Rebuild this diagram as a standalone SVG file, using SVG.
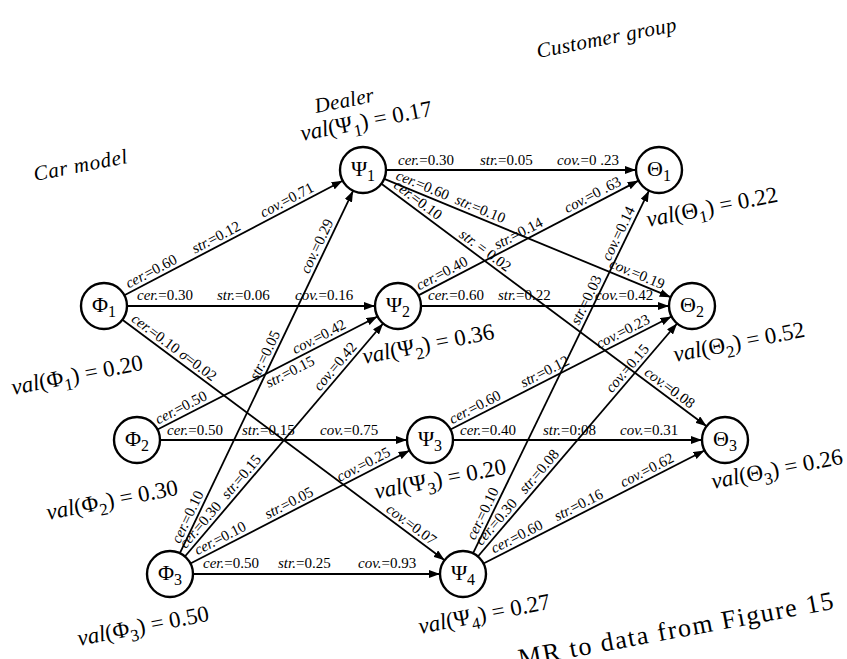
<svg xmlns="http://www.w3.org/2000/svg" width="847" height="659" viewBox="0 0 847 659">
<style>
.ln{stroke:#000;stroke-width:1.8;fill:none;marker-end:url(#ah)}
.nd{fill:#fff;stroke:#000;stroke-width:2.4}
.el{font-size:15px;fill:#000}
.i{font-style:italic}
.nl{font-size:22px;text-anchor:middle}
.val{font-size:23px}
.hd{font-style:italic;font-size:21px}
.cap{font-size:26px}
</style>
<defs>
<marker id="ah" markerWidth="11" markerHeight="8" refX="11" refY="4" orient="auto" markerUnits="userSpaceOnUse"><path d="M0,0 L11,4 L0,8 z" fill="#000"/></marker>
</defs>
<rect width="847" height="659" fill="#fff"/>
<g font-family="Liberation Serif, DejaVu Serif, serif">
<g id="connectors">
<line class="ln" x1="124.4" y1="295.3" x2="342.6" y2="180.7"/>
<line class="ln" x1="127" y1="306" x2="375" y2="306"/>
<line class="ln" x1="122.4" y1="319.8" x2="444.6" y2="560.2"/>
<line class="ln" x1="157.5" y1="429.5" x2="377.5" y2="316.5"/>
<line class="ln" x1="160" y1="440" x2="407" y2="440"/>
<line class="ln" x1="179.9" y1="553.2" x2="353.1" y2="190.8"/>
<line class="ln" x1="184.9" y1="556.5" x2="383.1" y2="323.5"/>
<line class="ln" x1="190.4" y1="563.5" x2="409.6" y2="450.5"/>
<line class="ln" x1="193" y1="574" x2="440" y2="574"/>
<line class="ln" x1="386" y1="170" x2="636" y2="170"/>
<line class="ln" x1="384.3" y1="178.8" x2="670.7" y2="297.2"/>
<line class="ln" x1="381.4" y1="183.8" x2="706.6" y2="426.2"/>
<line class="ln" x1="418.4" y1="295.4" x2="638.6" y2="180.6"/>
<line class="ln" x1="421" y1="306" x2="669" y2="306"/>
<line class="ln" x1="450.5" y1="429.5" x2="671.5" y2="316.5"/>
<line class="ln" x1="453" y1="440" x2="702" y2="440"/>
<line class="ln" x1="473" y1="553.3" x2="649" y2="190.7"/>
<line class="ln" x1="477.9" y1="556.5" x2="677.1" y2="323.5"/>
<line class="ln" x1="483.5" y1="563.5" x2="704.5" y2="450.5"/>

<g class="el">
<g transform="translate(104,306) rotate(-27.70)">
<text x="30" y="-4"><tspan class="i">cer.</tspan>=0.60</text>
<text x="105" y="-4"><tspan class="i">str.</tspan>=0.12</text>
<text x="182" y="-4"><tspan class="i">cov.</tspan>=0.71</text>
</g>
<text x="137" y="300"><tspan class="i">cer.</tspan>=0.30</text>
<text x="217" y="300"><tspan class="i">str.</tspan>=0.06</text>
<text x="295" y="300"><tspan class="i">cov.</tspan>=0.16</text>
<g transform="translate(104,306) rotate(36.74)">
<text x="30" y="-4"><tspan class="i">cer.</tspan>=0.10 <tspan class="i">σ</tspan>=0.02</text>
<text x="348" y="-4"><tspan class="i">cov.</tspan>=0.07</text>
</g>
<g transform="translate(137,440) rotate(-27.18)">
<text x="26" y="-4"><tspan class="i">cer.</tspan>=0.50</text>
<text x="141" y="14"><tspan class="i">str.</tspan>=0.15</text>
<text x="180" y="-4"><tspan class="i">cov.</tspan>=0.42</text>
</g>
<text x="167" y="435"><tspan class="i">cer.</tspan>=0.50</text>
<text x="242" y="435"><tspan class="i">str.</tspan>=0.15</text>
<text x="320" y="435"><tspan class="i">cov.</tspan>=0.75</text>
<g transform="translate(170,574) rotate(-64.46)">
<text x="31" y="-4"><tspan class="i">cer.</tspan>=0.10</text>
<text x="212" y="-4"><tspan class="i">str.</tspan>=0.05</text>
<text x="330" y="-4"><tspan class="i">cov.</tspan>=0.29</text>
</g>
<g transform="translate(170,574) rotate(-49.61)">
<text x="29" y="-4"><tspan class="i">cer.</tspan>=0.30</text>
<text x="94" y="-4"><tspan class="i">str.</tspan>=0.15</text>
<text x="236" y="-4"><tspan class="i">cov.</tspan>=0.42</text>
</g>
<g transform="translate(170,574) rotate(-27.27)">
<text x="33" y="-4"><tspan class="i">cer.</tspan>=0.10</text>
<text x="112" y="-4"><tspan class="i">str.</tspan>=0.05</text>
<text x="193" y="-4"><tspan class="i">cov.</tspan>=0.25</text>
</g>
<text x="203" y="568"><tspan class="i">cer.</tspan>=0.50</text>
<text x="278" y="568"><tspan class="i">str.</tspan>=0.25</text>
<text x="358" y="568"><tspan class="i">cov.</tspan>=0.93</text>
<text x="398" y="165"><tspan class="i">cer.</tspan>=0.30</text>
<text x="480" y="165"><tspan class="i">str.</tspan>=0.05</text>
<text x="557" y="165"><tspan class="i">cov.</tspan>=0 .23</text>
<g transform="translate(363,170) rotate(22.46)">
<text x="33" y="-4"><tspan class="i">cer.</tspan>=0.60</text>
<text x="97" y="-4"><tspan class="i">str.</tspan>=0.10</text>
<text x="264" y="-4"><tspan class="i">cov.</tspan>=0.19</text>
</g>
<g transform="translate(363,170) rotate(36.72)">
<text x="34" y="-4"><tspan class="i">cer.</tspan>=0.10</text>
<text x="116" y="-4"><tspan class="i">str.</tspan> = 0.02</text>
<text x="347" y="-4"><tspan class="i">cov.</tspan>=0.08</text>
</g>
<g transform="translate(398,306) rotate(-27.52)">
<text x="26" y="-4"><tspan class="i">cer.</tspan>=0.40</text>
<text x="114" y="-4"><tspan class="i">str.</tspan>=0.14</text>
<text x="193" y="-4"><tspan class="i">cov.</tspan>=0 .63</text>
</g>
<text x="428" y="300"><tspan class="i">cer.</tspan>=0.60</text>
<text x="498" y="300"><tspan class="i">str.</tspan>=0.22</text>
<text x="595" y="300"><tspan class="i">cov.</tspan>=0.42</text>
<g transform="translate(430,440) rotate(-27.08)">
<text x="27" y="-4"><tspan class="i">cer.</tspan>=0.60</text>
<text x="107" y="-4"><tspan class="i">str.</tspan>=0.12</text>
<text x="192" y="-4"><tspan class="i">cov.</tspan>=0.23</text>
</g>
<text x="460" y="435"><tspan class="i">cer.</tspan>=0.40</text>
<text x="543" y="435"><tspan class="i">str.</tspan>=0:08</text>
<text x="620" y="435"><tspan class="i">cov.</tspan>=0.31</text>
<g transform="translate(463,574) rotate(-64.12)">
<text x="35" y="-4"><tspan class="i">cer.</tspan>=0.10</text>
<text x="274" y="-4"><tspan class="i">str.</tspan>=0.03</text>
<text x="345" y="-4"><tspan class="i">cov.</tspan>=0.14</text>
</g>
<g transform="translate(463,574) rotate(-49.48)">
<text x="33" y="-4"><tspan class="i">cer.</tspan>=0.30</text>
<text x="101" y="-4"><tspan class="i">str.</tspan>=0.08</text>
<text x="234" y="-4"><tspan class="i">cov.</tspan>=0.15</text>
</g>
<g transform="translate(463,574) rotate(-27.08)">
<text x="37" y="-4"><tspan class="i">cer.</tspan>=0.60</text>
<text x="108" y="-4"><tspan class="i">str.</tspan>=0.16</text>
<text x="182" y="-4"><tspan class="i">cov.</tspan>=0.62</text>
</g>
</g>
</g>

<g id="phi1"><circle class="nd" cx="104" cy="306" r="23"/><text class="nl" x="104" y="312">Φ<tspan font-size="16" dy="5">1</tspan></text></g>
<g id="phi2"><circle class="nd" cx="137" cy="440" r="23"/><text class="nl" x="137" y="446">Φ<tspan font-size="16" dy="5">2</tspan></text></g>
<g id="phi3"><circle class="nd" cx="170" cy="574" r="23"/><text class="nl" x="170" y="580">Φ<tspan font-size="16" dy="5">3</tspan></text></g>
<g id="psi1"><circle class="nd" cx="363" cy="170" r="23"/><text class="nl" x="363" y="176">Ψ<tspan font-size="16" dy="5">1</tspan></text></g>
<g id="psi2"><circle class="nd" cx="398" cy="306" r="23"/><text class="nl" x="398" y="312">Ψ<tspan font-size="16" dy="5">2</tspan></text></g>
<g id="psi3"><circle class="nd" cx="430" cy="440" r="23"/><text class="nl" x="430" y="446">Ψ<tspan font-size="16" dy="5">3</tspan></text></g>
<g id="psi4"><circle class="nd" cx="463" cy="574" r="23"/><text class="nl" x="463" y="580">Ψ<tspan font-size="16" dy="5">4</tspan></text></g>
<g id="theta1"><circle class="nd" cx="659" cy="170" r="23"/><text class="nl" x="659" y="176">Θ<tspan font-size="16" dy="5">1</tspan></text></g>
<g id="theta2"><circle class="nd" cx="692" cy="306" r="23"/><text class="nl" x="692" y="312">Θ<tspan font-size="16" dy="5">2</tspan></text></g>
<g id="theta3"><circle class="nd" cx="725" cy="440" r="23"/><text class="nl" x="725" y="446">Θ<tspan font-size="16" dy="5">3</tspan></text></g>

<g id="labels">
<text class="hd" transform="translate(35,181) rotate(-11)" textLength="95">Car model</text>
<text class="hd" transform="translate(316,113) rotate(-11)" textLength="60">Dealer</text>
<text class="hd" transform="translate(538,58) rotate(-11)" textLength="142">Customer group</text>
<text class="val" transform="translate(302,141) rotate(-11)"><tspan class="i">val</tspan>(Ψ<tspan font-size="17" dy="6">1</tspan><tspan dy="-6">) = 0.17</tspan></text>
<text class="val" transform="translate(648,227) rotate(-11)"><tspan class="i">val</tspan>(Θ<tspan font-size="17" dy="6">1</tspan><tspan dy="-6">) = 0.22</tspan></text>
<text class="val" transform="translate(675,362) rotate(-11)"><tspan class="i">val</tspan>(Θ<tspan font-size="17" dy="6">2</tspan><tspan dy="-6">) = 0.52</tspan></text>
<text class="val" transform="translate(713,489) rotate(-11)"><tspan class="i">val</tspan>(Θ<tspan font-size="17" dy="6">3</tspan><tspan dy="-6">) = 0.26</tspan></text>
<text class="val" transform="translate(364,364) rotate(-11)"><tspan class="i">val</tspan>(Ψ<tspan font-size="17" dy="6">2</tspan><tspan dy="-6">) = 0.36</tspan></text>
<text class="val" transform="translate(376,499) rotate(-11)"><tspan class="i">val</tspan>(Ψ<tspan font-size="17" dy="6">3</tspan><tspan dy="-6">) = 0.20</tspan></text>
<text class="val" transform="translate(420,634) rotate(-11)"><tspan class="i">val</tspan>(Ψ<tspan font-size="17" dy="6">4</tspan><tspan dy="-6">) = 0.27</tspan></text>
<text class="val" transform="translate(13,395) rotate(-11)"><tspan class="i">val</tspan>(Φ<tspan font-size="17" dy="6">1</tspan><tspan dy="-6">) = 0.20</tspan></text>
<text class="val" transform="translate(48,520) rotate(-11)"><tspan class="i">val</tspan>(Φ<tspan font-size="17" dy="6">2</tspan><tspan dy="-6">) = 0.30</tspan></text>
<text class="val" transform="translate(79,646) rotate(-11)"><tspan class="i">val</tspan>(Φ<tspan font-size="17" dy="6">3</tspan><tspan dy="-6">) = 0.50</tspan></text>
<text class="cap" transform="translate(520,667) rotate(-10.5)" textLength="320">MR to data from Figure 15</text>
</g>
</g>
</svg>
